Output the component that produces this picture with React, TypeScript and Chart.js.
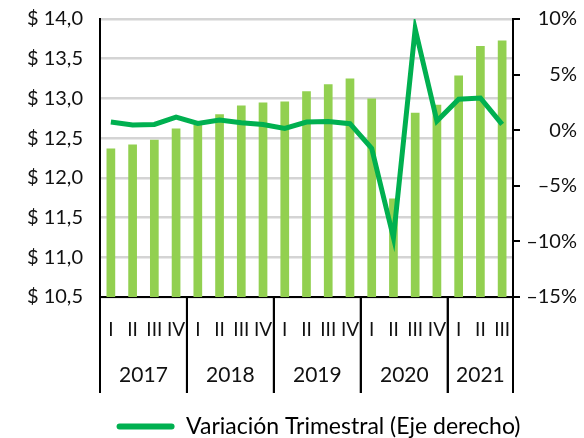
import React, { useEffect, useRef } from "react";
import { Chart, registerables } from "chart.js";

Chart.register(...registerables);

const quarterLabels = ["I", "II", "III", "IV", "I", "II", "III", "IV", "I", "II", "III", "IV", "I", "II", "III", "IV", "I", "II", "III"];
const years = ["2017", "2018", "2019", "2020", "2021"];
const quartersPerYear = [4, 4, 4, 4, 3];
const salaryValues = [12.37, 12.42, 12.48, 12.62, 12.67, 12.8, 12.91, 12.95, 12.96, 13.09, 13.18, 13.25, 13.0, 11.74, 12.82, 12.92, 13.29, 13.66, 13.73];
const quarterlyVariation = [0.73, 0.46, 0.52, 1.18, 0.61, 0.91, 0.68, 0.52, 0.16, 0.73, 0.79, 0.59, -1.64, -9.67, 9.1, 0.82, 2.78, 2.9, 0.52];
const legendText = "Variación Trimestral (Eje derecho)";

const FONT = "Lato";
const BAR_COLOR = "#92D050";
const LINE_COLOR = "#00B050";

const yearGroupPlugin = {
  id: "yearGroups",
  afterLayout(chart: any) {
    const lg = chart.legend;
    if (lg) {
      lg.left += 30;
      lg.right += 30;
    }
  },
  afterDraw(chart: any) {
    const x = chart.scales.x;
    const ctx = chart.ctx;
    const bottom = chart.chartArea.bottom;
    const half = (x.getPixelForValue(1) - x.getPixelForValue(0)) / 2;
    ctx.save();
    ctx.strokeStyle = "#000";
    ctx.lineWidth = 2;
    ctx.fillStyle = "#111";
    ctx.font = `21px ${FONT}`;
    ctx.textAlign = "center";
    ctx.textBaseline = "middle";
    let start = 0;
    years.forEach((yr, i) => {
      const end = start + quartersPerYear[i] - 1;
      const left = x.getPixelForValue(start) - half;
      const right = x.getPixelForValue(end) + half;
      ctx.beginPath();
      ctx.moveTo(left, bottom);
      ctx.lineTo(left, bottom + 96);
      ctx.moveTo(right, bottom);
      ctx.lineTo(right, bottom + 96);
      ctx.stroke();
      ctx.fillText(yr, (left + right) / 2, bottom + 78);
      start = end + 1;
    });
    ctx.restore();
  },
};

export default function App() {
  const ref = useRef<HTMLCanvasElement>(null);
  useEffect(() => {
    const chart = new Chart(ref.current!, {
      type: "bar",
      data: {
        labels: quarterLabels,
        datasets: [
          {
            type: "line",
            label: legendText,
            data: quarterlyVariation,
            yAxisID: "y1",
            borderColor: LINE_COLOR,
            backgroundColor: LINE_COLOR,
            borderWidth: 5,
            pointRadius: 0,
            tension: 0,
            order: 0,
          } as any,
          {
            type: "bar",
            label: "Salario",
            data: salaryValues,
            yAxisID: "y",
            backgroundColor: BAR_COLOR,
            barPercentage: 0.4,
            categoryPercentage: 1,
            order: 1,
          },
        ],
      },
      options: {
        animation: false,
        responsive: true,
        maintainAspectRatio: false,
        layout: { padding: { top: 19, right: 7, left: 0, bottom: -10 } },
        plugins: {
          tooltip: { enabled: false },
          legend: {
            position: "bottom",
            labels: {
              font: { family: FONT, size: 23 },
              color: "#111",
              boxWidth: 58,
              boxHeight: 6,
              useBorderRadius: true,
              borderRadius: 3,
              padding: 5,
              generateLabels: () => [
                {
                  text: legendText,
                  fillStyle: LINE_COLOR,
                  strokeStyle: LINE_COLOR,
                  lineWidth: 0,
                  hidden: false,
                  datasetIndex: 0,
                  borderRadius: 3,
                } as any,
              ],
            },
          },
        },
        scales: {
          x: {
            offset: true,
            grid: { display: true, drawOnChartArea: false, drawTicks: false, color: "transparent" },
            border: { display: true, color: "#000", width: 2 },
            ticks: {
              font: { family: FONT, size: 19 },
              color: "#111",
              maxRotation: 0,
              autoSkip: false,
              padding: 21,
            },
            afterFit: (s: any) => {
              s.height = 113;
            },
          },
          y: {
            position: "left",
            min: 10.5,
            max: 14,
            grid: { color: "#D4D4D4", lineWidth: 2.5, drawTicks: true, tickLength: 15, tickColor: "transparent" },
            border: { display: true, color: "#000", width: 2 },
            ticks: {
              stepSize: 0.5,
              padding: 2,
              font: { family: FONT, size: 20 },
              color: "#111",
              callback: (v: any) => "$ " + Number(v).toFixed(1).replace(".", ","),
            },
            afterFit: (s: any) => {
              s.width = 100;
            },
          },
          y1: {
            position: "right",
            min: -15,
            max: 10,
            grid: { drawOnChartArea: false, drawTicks: true, tickLength: 7, color: "#000", lineWidth: 2 },
            border: { display: true, color: "#000", width: 2 },
            ticks: {
              stepSize: 5,
              padding: 2,
              crossAlign: "far",
              font: { family: FONT, size: 20 },
              color: "#111",
              callback: (v: any) => (v < 0 ? "–" + Math.abs(v) : String(v)) + "%",
            },
            afterFit: (s: any) => {
              s.width = 64;
            },
          },
        },
      },
      plugins: [yearGroupPlugin],
    });
    return () => chart.destroy();
  }, []);
  return (
    <div style={{ position: "fixed", left: 0, top: 0, width: 584, height: 438, background: "#fff" }}>
      <canvas ref={ref} />
    </div>
  );
}
